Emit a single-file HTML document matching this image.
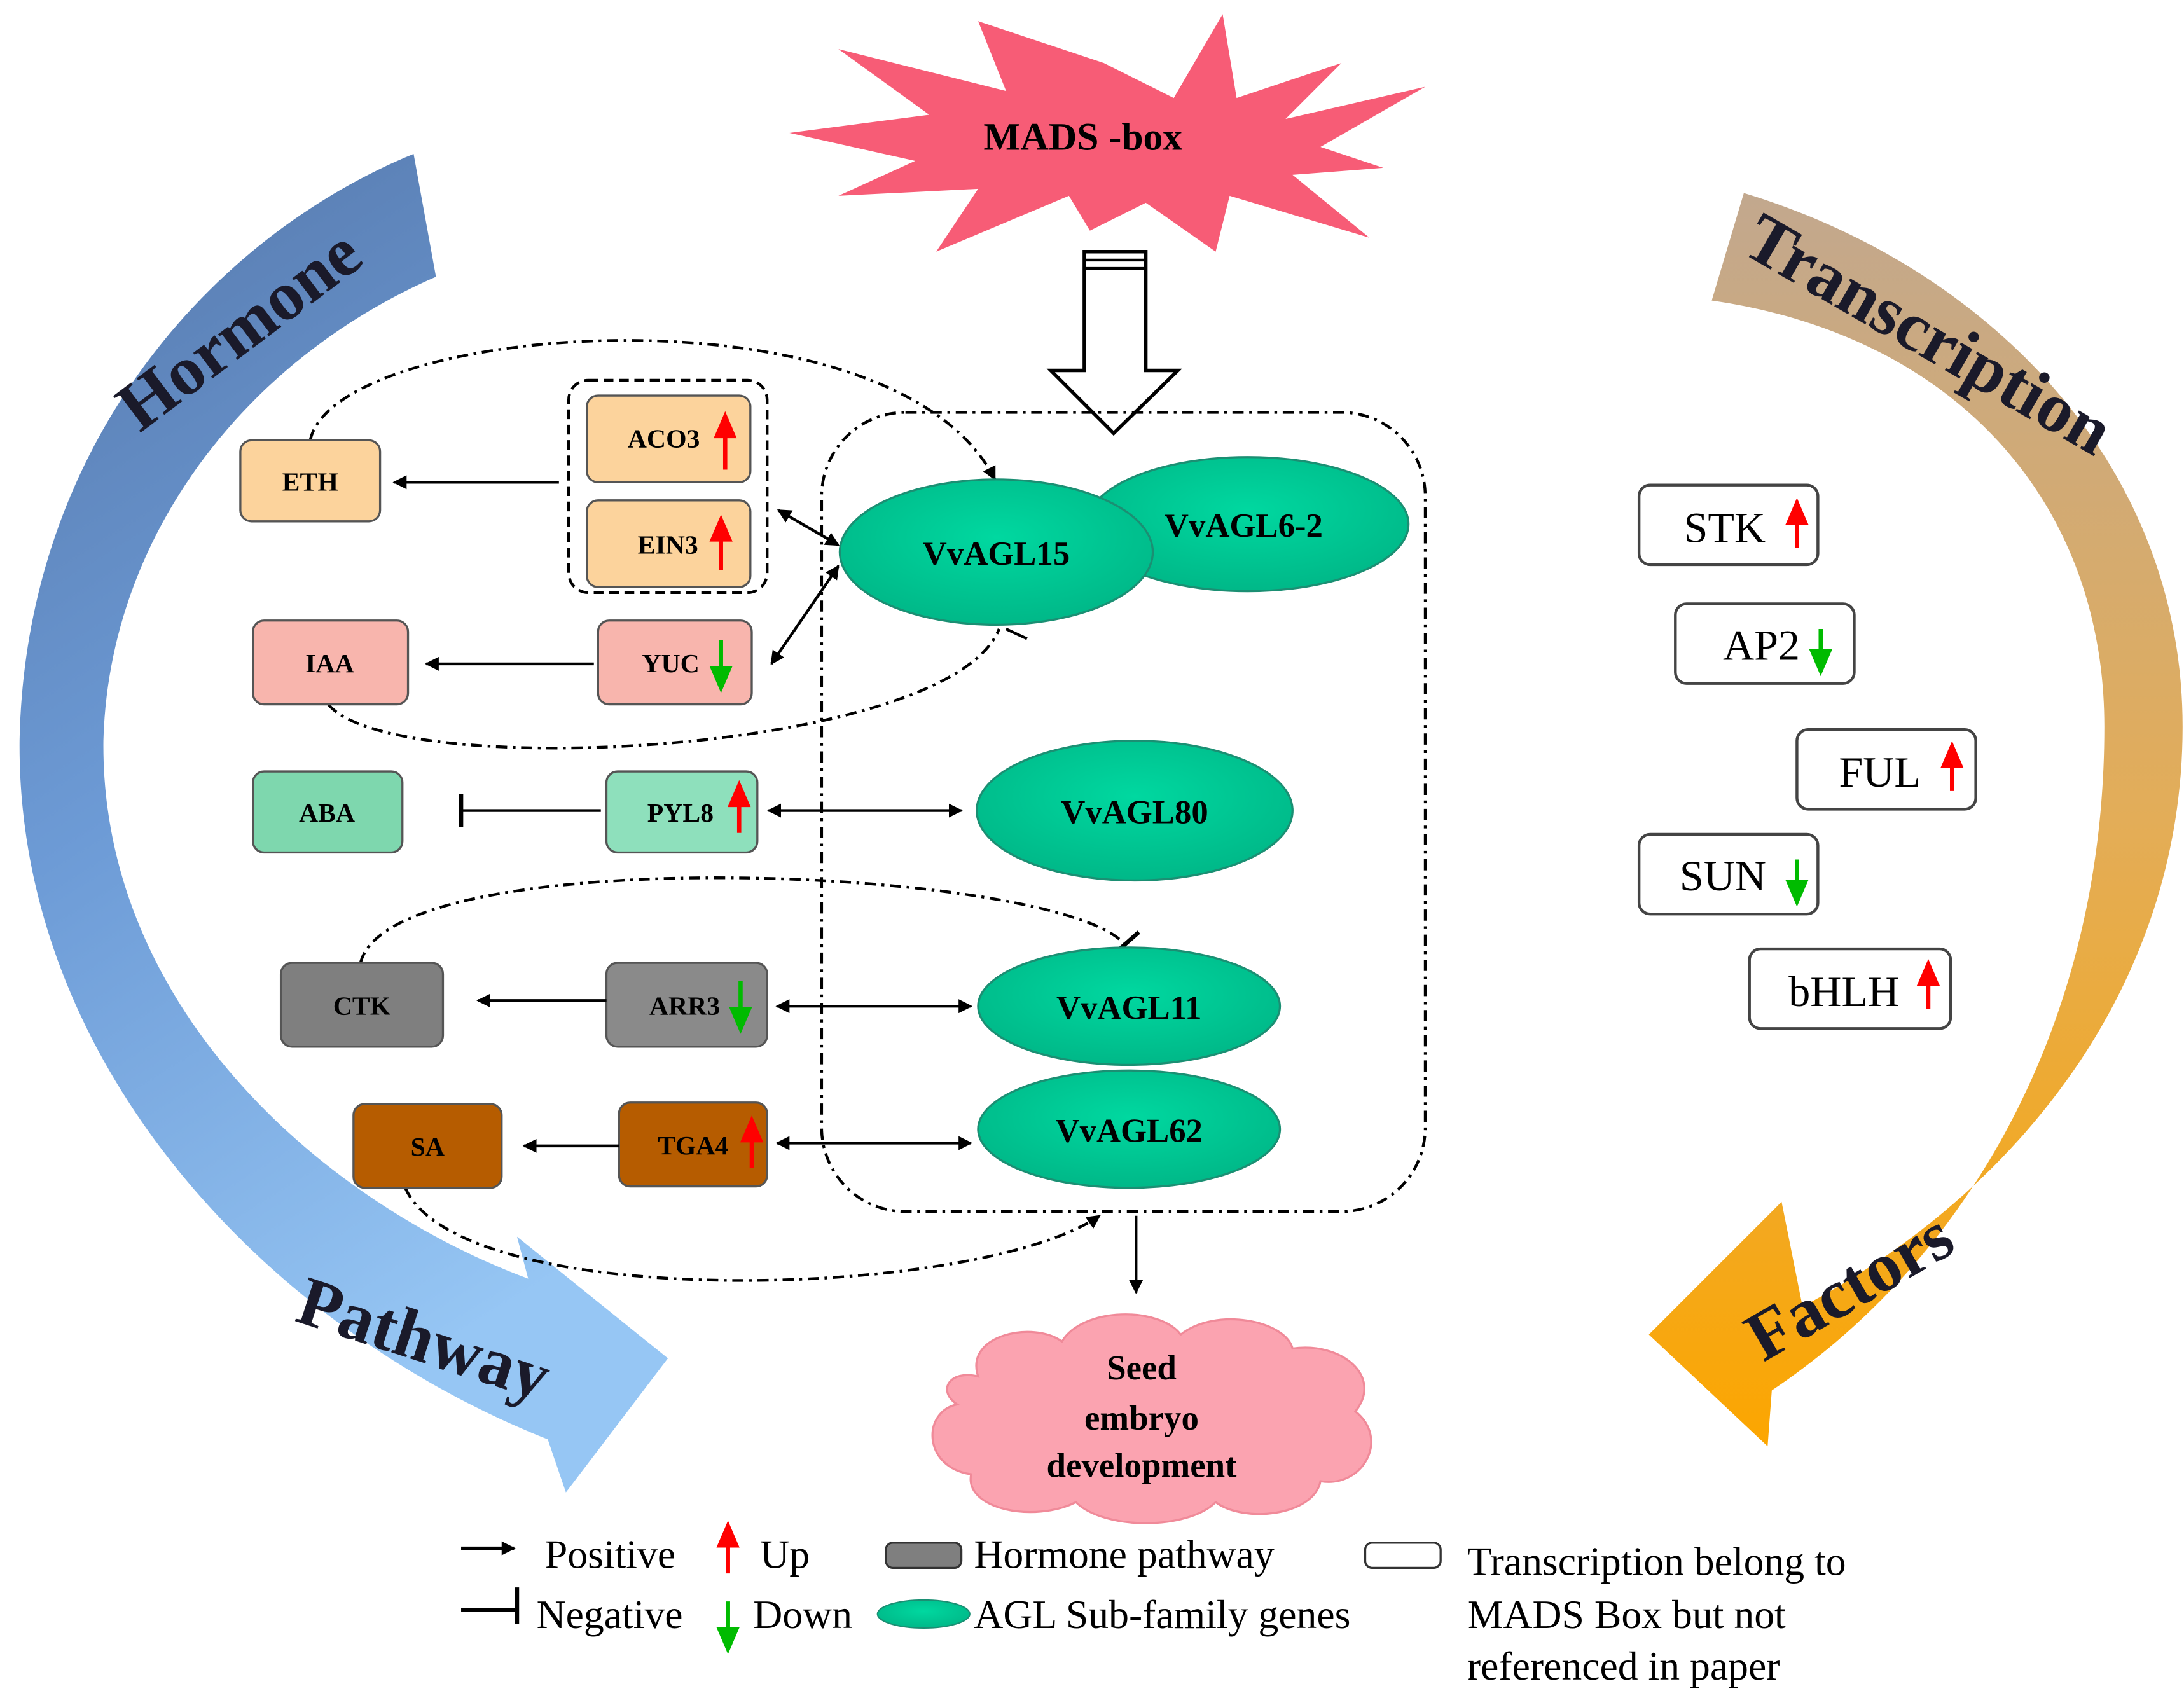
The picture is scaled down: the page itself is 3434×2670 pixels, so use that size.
<!DOCTYPE html>
<html><head><meta charset="utf-8"><style>html,body{margin:0;padding:0;background:#fff}svg{display:block}</style></head><body>
<svg width="3434" height="2670" viewBox="0 0 1563 1215" xmlns="http://www.w3.org/2000/svg" font-family="Liberation Serif, serif">
<defs>
<linearGradient id="hb" x1="0" y1="0" x2="0.3" y2="1"><stop offset="0" stop-color="#5577aa"/><stop offset="0.5" stop-color="#6d9bd6"/><stop offset="1" stop-color="#96c6f4"/></linearGradient>
<linearGradient id="tf" x1="0" y1="0" x2="0" y2="1"><stop offset="0" stop-color="#c2a88e"/><stop offset="0.5" stop-color="#e3ad58"/><stop offset="1" stop-color="#fca600"/></linearGradient>
<radialGradient id="el" cx="0.5" cy="0.4" r="0.6"><stop offset="0" stop-color="#00d8a0"/><stop offset="1" stop-color="#00b888"/></radialGradient>
<marker id="ar" markerWidth="10" markerHeight="10" refX="9" refY="5" orient="auto" markerUnits="userSpaceOnUse"><path d="M0,0 L10,5 L0,10 Z" fill="#000"/></marker>
<marker id="as" markerWidth="10" markerHeight="10" refX="1" refY="5" orient="auto" markerUnits="userSpaceOnUse"><path d="M10,0 L0,5 L10,10 Z" fill="#000"/></marker>
</defs>
<path d="M296,110 C150,170 18,320 14,530 C12,760 190,950 392,1030 L405,1068 L478,972 L370,885 L378,915 C230,860 72,720 74,530 C78,380 180,255 312,198 Z" fill="url(#hb)"/>
<text x="0" y="0" font-size="50" font-weight="bold" fill="#1a1a2a" transform="translate(100,310) rotate(-37)">Hormone</text>
<text x="0" y="0" font-size="50" font-weight="bold" fill="#1a1a2a" transform="translate(210,945) rotate(18)">Pathway</text>
<path d="M1248,138 C1420,190 1562,330 1562,520 C1562,700 1450,850 1290,935 L1275,860 L1180,955 L1265,1035 L1268,995 C1410,900 1506,730 1506,520 C1506,360 1400,240 1225,215 Z" fill="url(#tf)"/>
<text x="0" y="0" font-size="50" font-weight="bold" fill="#1a1a2a" transform="translate(1245,180) rotate(30)">Transcription</text>
<text x="0" y="0" font-size="50" font-weight="bold" fill="#1a1a2a" transform="translate(1262,975) rotate(-30)">Factors</text>
<polygon points="790,45 840,70 875,10 885,70 960,45 920,85 1020,62 945,105 990,120 925,125 980,170 880,140 870,180 820,145 780,165 765,140 670,180 700,135 600,140 655,115 565,95 665,82 600,35 720,65 700,15" fill="#f75c76"/>
<text x="775" y="107" font-size="28" font-weight="bold" text-anchor="middle">MADS -box</text>
<path d="M776,180 L820,180 L820,265 L843,265 L797,310 L752,265 L776,265 Z" fill="#fff" stroke="#000" stroke-width="2.5"/>
<line x1="776" y1="186" x2="820" y2="186" stroke="#000" stroke-width="2"/><line x1="776" y1="192" x2="820" y2="192" stroke="#000" stroke-width="2"/>
<rect x="588" y="295" width="432" height="572" rx="60" fill="none" stroke="#000" stroke-width="2" stroke-dasharray="8,4,2,4"/>
<path d="M222,315 C240,230 640,200 712,343" fill="none" stroke="#000" stroke-width="2" stroke-dasharray="8,4,2,4" marker-end="url(#ar)"/>
<path d="M235,504 C280,560 680,540 715,450" fill="none" stroke="#000" stroke-width="2" stroke-dasharray="8,4,2,4"/>
<line x1="720" y1="450" x2="735" y2="457" stroke="#000" stroke-width="2"/>
<path d="M258,689 C280,600 760,620 805,676" fill="none" stroke="#000" stroke-width="2" stroke-dasharray="8,4,2,4"/>
<line x1="798" y1="682" x2="815" y2="667" stroke="#000" stroke-width="3"/>
<path d="M290,850 C330,940 700,930 787,870" fill="none" stroke="#000" stroke-width="2" stroke-dasharray="8,4,2,4" marker-end="url(#ar)"/>
<ellipse cx="893" cy="375" rx="115" ry="48" fill="url(#el)" stroke="#1b8f73" stroke-width="1.5"/>
<ellipse cx="713" cy="395" rx="112" ry="52" fill="url(#el)" stroke="#1b8f73" stroke-width="1.5"/>
<ellipse cx="812" cy="580" rx="113" ry="50" fill="url(#el)" stroke="#1b8f73" stroke-width="1.5"/>
<ellipse cx="808" cy="720" rx="108" ry="42" fill="url(#el)" stroke="#1b8f73" stroke-width="1.5"/>
<ellipse cx="808" cy="808" rx="108" ry="42" fill="url(#el)" stroke="#1b8f73" stroke-width="1.5"/>
<g font-size="24" font-weight="bold" text-anchor="middle">
<text x="890" y="384">VvAGL6-2</text><text x="713" y="404">VvAGL15</text><text x="812" y="589">VvAGL80</text><text x="808" y="729">VvAGL11</text><text x="808" y="817">VvAGL62</text>
</g>
<rect x="407" y="272" width="142" height="152" rx="14" fill="none" stroke="#000" stroke-width="2" stroke-dasharray="7,4"/>
<g stroke="#555" stroke-width="1.5">
<rect x="172" y="315" width="100" height="58" rx="8" fill="#fcd39c"/>
<rect x="420" y="283" width="117" height="62" rx="8" fill="#fcd39c"/>
<rect x="420" y="358" width="117" height="62" rx="8" fill="#fcd39c"/>
<rect x="181" y="444" width="111" height="60" rx="8" fill="#f8b5ad"/>
<rect x="428" y="444" width="110" height="60" rx="8" fill="#f8b5ad"/>
<rect x="181" y="552" width="107" height="58" rx="8" fill="#7ed7ae"/>
<rect x="434" y="552" width="108" height="58" rx="8" fill="#8ee0bc"/>
<rect x="201" y="689" width="116" height="60" rx="8" fill="#7f7f7f"/>
<rect x="434" y="689" width="115" height="60" rx="8" fill="#8a8a8a"/>
<rect x="253" y="790" width="106" height="60" rx="8" fill="#b65c00"/>
<rect x="443" y="789" width="106" height="60" rx="8" fill="#b65c00"/>
</g>
<g font-size="19" font-weight="bold" text-anchor="middle">
<text x="222" y="351">ETH</text><text x="475" y="320">ACO3</text><text x="478" y="396">EIN3</text>
<text x="236" y="481">IAA</text><text x="480" y="481">YUC</text>
<text x="234" y="588">ABA</text><text x="487" y="588">PYL8</text>
<text x="259" y="726">CTK</text><text x="490" y="726">ARR3</text>
<text x="306" y="827">SA</text><text x="496" y="826">TGA4</text>
</g>
<g>
<path d="M519,336 V302 M513,312 L519,298 L525,312 Z" stroke="#f00" stroke-width="3" fill="#f00"/>
<path d="M516,408 V376 M510,386 L516,372 L522,386 Z" stroke="#f00" stroke-width="3" fill="#f00"/>
<path d="M516,458 V488 M510,478 L516,492 L522,478 Z" stroke="#0b0" stroke-width="3" fill="#0b0"/>
<path d="M529,596 V566 M523,576 L529,562 L535,576 Z" stroke="#f00" stroke-width="3" fill="#f00"/>
<path d="M530,702 V732 M524,722 L530,736 L536,722 Z" stroke="#0b0" stroke-width="3" fill="#0b0"/>
<path d="M538,836 V806 M532,816 L538,802 L544,816 Z" stroke="#f00" stroke-width="3" fill="#f00"/>
</g>
<g stroke="#000" stroke-width="2" fill="none">
<line x1="400" y1="345" x2="282" y2="345" marker-end="url(#ar)"/>
<line x1="425" y1="475" x2="305" y2="475" marker-end="url(#ar)"/>
<line x1="430" y1="580" x2="330" y2="580"/>
<line x1="330" y1="568" x2="330" y2="592" stroke-width="3"/>
<line x1="434" y1="716" x2="342" y2="716" marker-end="url(#ar)"/>
<line x1="443" y1="820" x2="375" y2="820" marker-end="url(#ar)"/>
<line x1="557" y1="365" x2="600" y2="390" marker-end="url(#ar)" marker-start="url(#as)"/>
<line x1="552" y1="475" x2="600" y2="405" marker-end="url(#ar)" marker-start="url(#as)"/>
<line x1="550" y1="580" x2="688" y2="580" marker-end="url(#ar)" marker-start="url(#as)"/>
<line x1="556" y1="720" x2="695" y2="720" marker-end="url(#ar)" marker-start="url(#as)"/>
<line x1="556" y1="818" x2="695" y2="818" marker-end="url(#ar)" marker-start="url(#as)"/>
<line x1="813" y1="870" x2="813" y2="925" marker-end="url(#ar)"/>
</g>
<path d="M700,985 C690,955 740,945 760,960 C775,935 830,935 845,955 C870,935 920,945 925,965 C960,960 990,985 970,1010 C995,1030 975,1065 945,1060 C940,1085 890,1090 870,1075 C850,1095 790,1095 770,1075 C740,1090 690,1080 695,1055 C660,1050 660,1010 685,1005 C670,995 680,980 700,985 Z" fill="#fba3b0" stroke="#f08a99" stroke-width="1.5"/>
<g font-size="25" font-weight="bold" text-anchor="middle">
<text x="817" y="987">Seed</text><text x="817" y="1023">embryo</text><text x="817" y="1057">development</text>
</g>
<g fill="#fff" stroke="#444" stroke-width="2">
<rect x="1173" y="347" width="128" height="57" rx="8"/><rect x="1199" y="432" width="128" height="57" rx="8"/>
<rect x="1286" y="522" width="128" height="57" rx="8"/><rect x="1173" y="597" width="128" height="57" rx="8"/>
<rect x="1252" y="679" width="144" height="57" rx="8"/>
</g>
<g font-size="31">
<text x="1205" y="388">STK</text><text x="1233" y="472">AP2</text><text x="1316" y="563">FUL</text><text x="1202" y="637">SUN</text><text x="1280" y="720">bHLH</text>
</g>
<path d="M1286,392 V366 M1280,374 L1286,360 L1292,374 Z" stroke="#f00" stroke-width="3" fill="#f00"/>
<path d="M1303,450 V472 M1297,466 L1303,480 L1309,466 Z" stroke="#0b0" stroke-width="3" fill="#0b0"/>
<path d="M1397,566 V540 M1391,548 L1397,534 L1403,548 Z" stroke="#f00" stroke-width="3" fill="#f00"/>
<path d="M1286,615 V637 M1280,631 L1286,645 L1292,631 Z" stroke="#0b0" stroke-width="3" fill="#0b0"/>
<path d="M1380,722 V696 M1374,704 L1380,690 L1386,704 Z" stroke="#f00" stroke-width="3" fill="#f00"/>
<line x1="330" y1="1108" x2="368" y2="1108" stroke="#000" stroke-width="2.5" marker-end="url(#ar)"/>
<line x1="330" y1="1152" x2="370" y2="1152" stroke="#000" stroke-width="2.5"/>
<line x1="370" y1="1136" x2="370" y2="1162" stroke="#000" stroke-width="3"/>
<path d="M521,1126 V1098 M515,1106 L521,1092 L527,1106 Z" stroke="#f00" stroke-width="3" fill="#f00"/>
<path d="M521,1146 V1172 M515,1166 L521,1180 L527,1166 Z" stroke="#0b0" stroke-width="3" fill="#0b0"/>
<rect x="634" y="1104" width="54" height="18" rx="5" fill="#7f7f7f" stroke="#333" stroke-width="1.5"/>
<ellipse cx="661" cy="1155" rx="33" ry="10" fill="url(#el)" stroke="#1b8f73"/>
<rect x="977" y="1104" width="54" height="18" rx="5" fill="#fff" stroke="#333" stroke-width="1.5"/>
<g font-size="29">
<text x="390" y="1122">Positive</text><text x="544" y="1122">Up</text><text x="697" y="1122">Hormone pathway</text>
<text x="384" y="1165">Negative</text><text x="539" y="1165">Down</text><text x="697" y="1165">AGL Sub-family genes</text>
<text x="1050" y="1127">Transcription  belong to</text><text x="1050" y="1165">MADS Box but not</text><text x="1050" y="1202">referenced in paper</text>
</g>
</svg>
</body></html>
